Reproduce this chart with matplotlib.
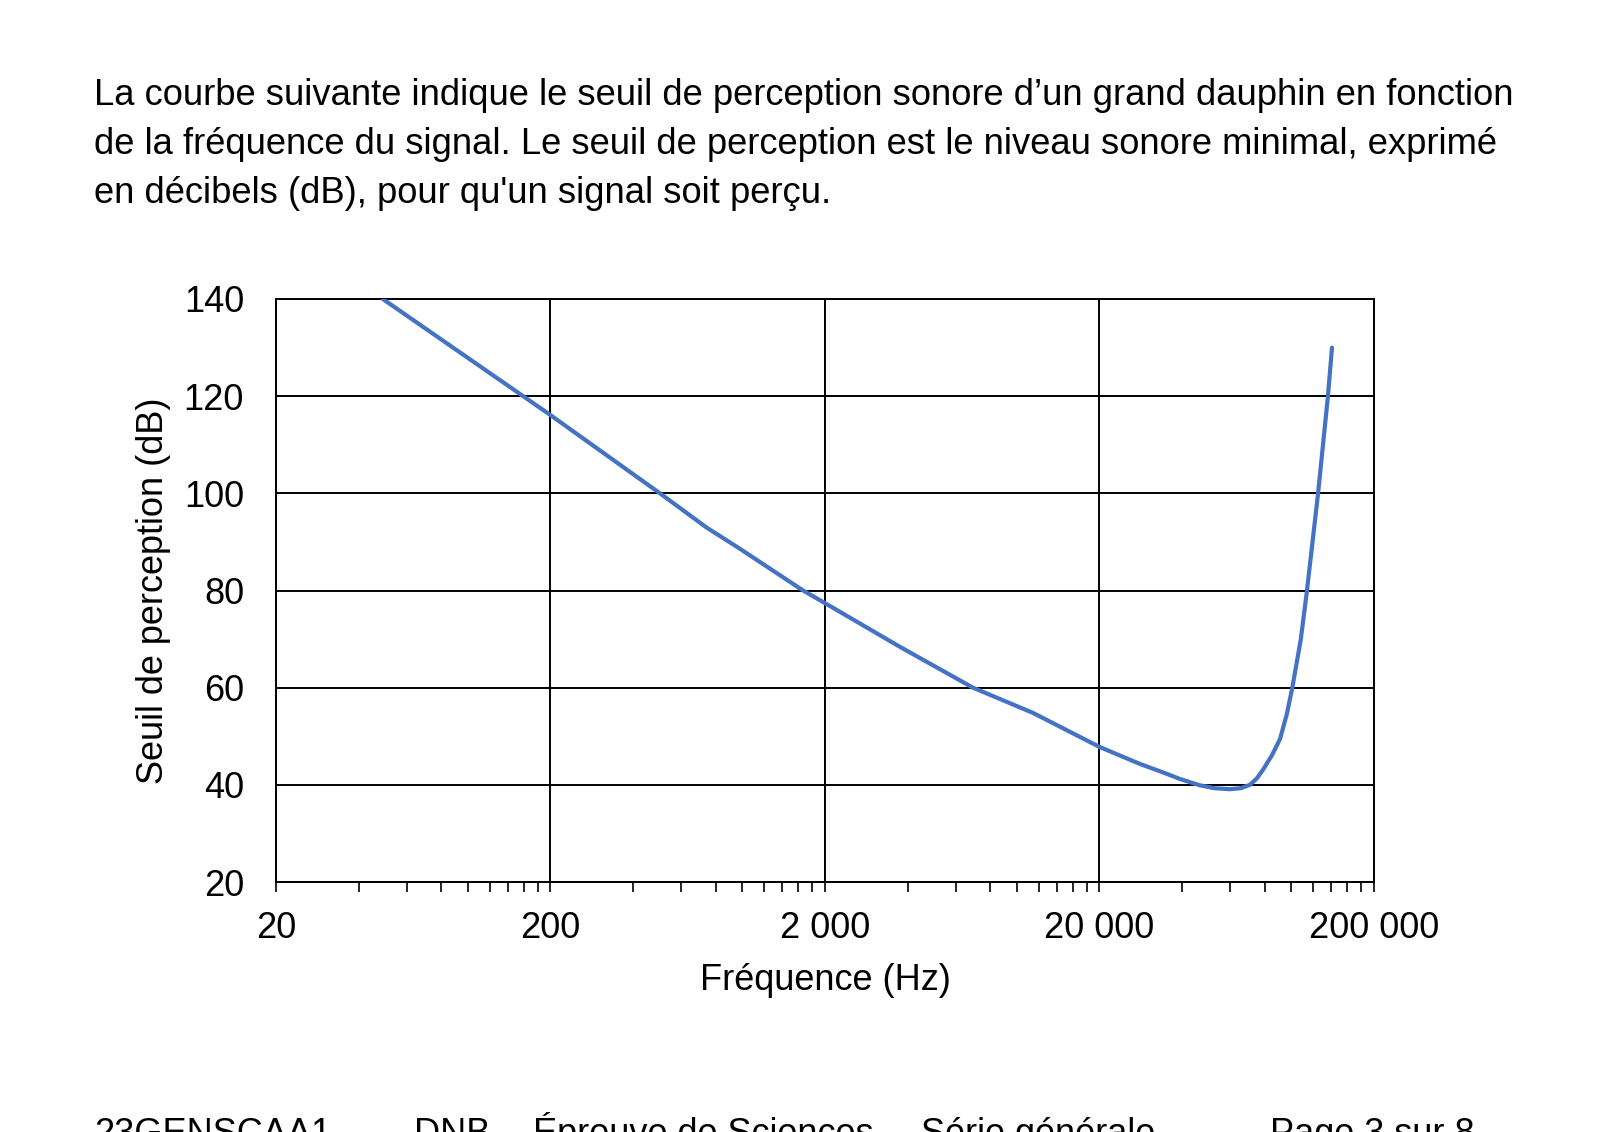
import numpy as np
import matplotlib
matplotlib.use('Agg')
import matplotlib.pyplot as plt
from matplotlib.ticker import FixedLocator, NullFormatter

plt.rcParams['font.family'] = ['Liberation Sans', 'DejaVu Sans']

# seuil de perception du grand dauphin
freq = [49, 159, 200, 501, 743, 955, 1664, 2000, 3750, 6920, 11450, 20000,
        28090, 34650, 39300, 46440, 52600, 59730, 65300, 70660, 74800, 78800,
        84800, 90900, 96200, 100800, 108200, 114000, 125100, 135900, 140600]
seuil = [140, 120, 116.1, 100, 92.9, 89, 80, 77.4, 68.4, 60, 54.8, 47.8,
         44.3, 42.4, 41.2, 39.9, 39.3, 39.1, 39.3, 40.0, 41.3, 43.1,
         46.0, 49.4, 54.5, 60, 69.9, 80, 100, 120, 130]

xticks = [20, 200, 2000, 20000, 200000]
xlabels = ['20', '200', '2 000', '20 000', '200 000']
yticks = [20, 40, 60, 80, 100, 120, 140]

W, H = 1606, 1132
fig = plt.figure(figsize=(W / 100, H / 100), dpi=100)
ax = fig.add_axes([276 / W, 1 - 882 / H, (1374 - 276) / W, (882 - 299) / H])

ax.plot(freq, seuil, color='#4472C4', lw=3, solid_capstyle='round',
        solid_joinstyle='round', zorder=3)

ax.set_xscale('log')
ax.set_xlim(20, 200000)
ax.set_ylim(20, 140)
ax.xaxis.set_major_locator(FixedLocator(xticks))
ax.set_xticklabels(xlabels)
minors = [20 * 10**d * k for d in range(4) for k in range(2, 10)]
ax.xaxis.set_minor_locator(FixedLocator(minors))
ax.xaxis.set_minor_formatter(NullFormatter())
ax.set_yticks(yticks)

ax.grid(True, which='major', color='black', lw=1.4)
for s in ax.spines.values():
    s.set_color('black')
    s.set_linewidth(1.4)
ax.tick_params(axis='x', which='both', direction='out', length=7, width=1.2,
               labelsize=26, pad=14)
ax.tick_params(axis='y', length=0, labelsize=26, pad=23)

ax.set_xlabel('Fréquence (Hz)', fontsize=26, labelpad=12)
ax.set_ylabel('Seuil de perception (dB)', fontsize=26, labelpad=9)

texte = ["La courbe suivante indique le seuil de perception sonore d’un grand dauphin en fonction",
         "de la fréquence du signal. Le seuil de perception est le niveau sonore minimal, exprimé",
         "en décibels (dB), pour qu'un signal soit perçu."]
for i, ligne in enumerate(texte):
    fig.text(94 / W, 1 - (105 + 49 * i) / H, ligne, fontsize=26.2, va='baseline')

pied = [(94, '23GENSCAA1'), (414, 'DNB  –'), (533, 'Épreuve de Sciences  –'),
        (921, 'Série générale'), (1270, 'Page 3 sur 8')]
for x, t in pied:
    fig.text(x / W, 1 - 1144 / H, t, fontsize=26, va='baseline')

fig.savefig('out.png', dpi=100)
